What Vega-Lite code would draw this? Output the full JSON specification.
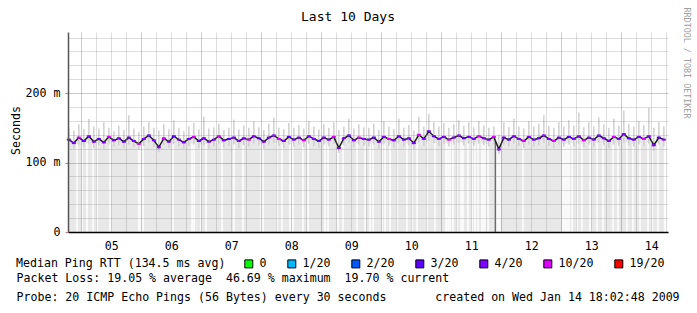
{
  "$schema": "https://vega.github.io/schema/vega-lite/v6.json",
  "width": 600,
  "height": 200,
  "autosize": {"type": "none"},
  "padding": {"left": 68, "top": 32, "right": 29, "bottom": 81},
  "background": "white",
  "config": {"view": {"stroke": null}, "font": "DejaVu Sans Mono"},
  "datasets": {
    "rtt": [
      {"t":"2009-01-04T19:00Z","m":133,"lo":124,"hi":150,"l":"4/20"},
      {"t":"2009-01-04T21:00Z","m":128,"lo":120,"hi":146,"l":"4/20"},
      {"t":"2009-01-04T23:00Z","m":136,"lo":126,"hi":155,"l":"10/20"},
      {"t":"2009-01-05T01:00Z","m":131,"lo":122,"hi":148,"l":"3/20"},
      {"t":"2009-01-05T03:00Z","m":138,"lo":127,"hi":163,"l":"4/20"},
      {"t":"2009-01-05T05:00Z","m":130,"lo":121,"hi":152,"l":"4/20"},
      {"t":"2009-01-05T07:00Z","m":134,"lo":125,"hi":149,"l":"3/20"},
      {"t":"2009-01-05T09:00Z","m":129,"lo":119,"hi":158,"l":"4/20"},
      {"t":"2009-01-05T11:00Z","m":137,"lo":126,"hi":150,"l":"10/20"},
      {"t":"2009-01-05T13:00Z","m":132,"lo":123,"hi":145,"l":"4/20"},
      {"t":"2009-01-05T15:00Z","m":135,"lo":125,"hi":153,"l":"4/20"},
      {"t":"2009-01-05T17:00Z","m":130,"lo":121,"hi":147,"l":"3/20"},
      {"t":"2009-01-05T19:00Z","m":136,"lo":126,"hi":168,"l":"4/20"},
      {"t":"2009-01-05T21:00Z","m":131,"lo":122,"hi":149,"l":"4/20"},
      {"t":"2009-01-05T23:00Z","m":127,"lo":118,"hi":144,"l":"10/20"},
      {"t":"2009-01-06T01:00Z","m":134,"lo":124,"hi":152,"l":"4/20"},
      {"t":"2009-01-06T03:00Z","m":139,"lo":128,"hi":158,"l":"3/20"},
      {"t":"2009-01-06T05:00Z","m":132,"lo":122,"hi":150,"l":"4/20"},
      {"t":"2009-01-06T07:00Z","m":122,"lo":115,"hi":146,"l":"4/20"},
      {"t":"2009-01-06T09:00Z","m":135,"lo":125,"hi":155,"l":"10/20"},
      {"t":"2009-01-06T11:00Z","m":130,"lo":121,"hi":148,"l":"4/20"},
      {"t":"2009-01-06T13:00Z","m":138,"lo":127,"hi":161,"l":"3/20"},
      {"t":"2009-01-06T15:00Z","m":133,"lo":123,"hi":150,"l":"4/20"},
      {"t":"2009-01-06T17:00Z","m":129,"lo":120,"hi":145,"l":"4/20"},
      {"t":"2009-01-06T19:00Z","m":134,"lo":124,"hi":152,"l":"4/20"},
      {"t":"2009-01-06T21:00Z","m":137,"lo":126,"hi":157,"l":"10/20"},
      {"t":"2009-01-06T23:00Z","m":131,"lo":121,"hi":148,"l":"3/20"},
      {"t":"2009-01-07T01:00Z","m":135,"lo":125,"hi":166,"l":"4/20"},
      {"t":"2009-01-07T03:00Z","m":130,"lo":120,"hi":149,"l":"4/20"},
      {"t":"2009-01-07T05:00Z","m":133,"lo":123,"hi":151,"l":"4/20"},
      {"t":"2009-01-07T07:00Z","m":138,"lo":127,"hi":156,"l":"10/20"},
      {"t":"2009-01-07T09:00Z","m":132,"lo":122,"hi":147,"l":"4/20"},
      {"t":"2009-01-07T11:00Z","m":134,"lo":124,"hi":150,"l":"3/20"},
      {"t":"2009-01-07T13:00Z","m":136,"lo":126,"hi":162,"l":"4/20"},
      {"t":"2009-01-07T15:00Z","m":131,"lo":121,"hi":148,"l":"4/20"},
      {"t":"2009-01-07T17:00Z","m":135,"lo":125,"hi":153,"l":"4/20"},
      {"t":"2009-01-07T19:00Z","m":133,"lo":123,"hi":150,"l":"10/20"},
      {"t":"2009-01-07T21:00Z","m":138,"lo":127,"hi":159,"l":"4/20"},
      {"t":"2009-01-07T23:00Z","m":135,"lo":125,"hi":151,"l":"3/20"},
      {"t":"2009-01-08T01:00Z","m":130,"lo":120,"hi":147,"l":"4/20"},
      {"t":"2009-01-08T03:00Z","m":136,"lo":126,"hi":156,"l":"4/20"},
      {"t":"2009-01-08T05:00Z","m":139,"lo":128,"hi":165,"l":"4/20"},
      {"t":"2009-01-08T07:00Z","m":134,"lo":124,"hi":150,"l":"10/20"},
      {"t":"2009-01-08T09:00Z","m":131,"lo":121,"hi":148,"l":"4/20"},
      {"t":"2009-01-08T11:00Z","m":137,"lo":126,"hi":157,"l":"3/20"},
      {"t":"2009-01-08T13:00Z","m":133,"lo":123,"hi":150,"l":"4/20"},
      {"t":"2009-01-08T15:00Z","m":136,"lo":126,"hi":154,"l":"4/20"},
      {"t":"2009-01-08T17:00Z","m":132,"lo":122,"hi":149,"l":"10/20"},
      {"t":"2009-01-08T19:00Z","m":138,"lo":127,"hi":160,"l":"4/20"},
      {"t":"2009-01-08T21:00Z","m":134,"lo":124,"hi":152,"l":"4/20"},
      {"t":"2009-01-08T23:00Z","m":131,"lo":121,"hi":148,"l":"3/20"},
      {"t":"2009-01-09T01:00Z","m":136,"lo":126,"hi":155,"l":"4/20"},
      {"t":"2009-01-09T03:00Z","m":133,"lo":123,"hi":150,"l":"4/20"},
      {"t":"2009-01-09T05:00Z","m":137,"lo":127,"hi":158,"l":"10/20"},
      {"t":"2009-01-09T07:00Z","m":121,"lo":114,"hi":147,"l":"4/20"},
      {"t":"2009-01-09T09:00Z","m":135,"lo":125,"hi":152,"l":"4/20"},
      {"t":"2009-01-09T11:00Z","m":139,"lo":128,"hi":163,"l":"3/20"},
      {"t":"2009-01-09T13:00Z","m":132,"lo":122,"hi":149,"l":"4/20"},
      {"t":"2009-01-09T15:00Z","m":136,"lo":126,"hi":155,"l":"10/20"},
      {"t":"2009-01-09T17:00Z","m":134,"lo":124,"hi":151,"l":"4/20"},
      {"t":"2009-01-09T19:00Z","m":133,"lo":123,"hi":150,"l":"4/20"},
      {"t":"2009-01-09T21:00Z","m":136,"lo":126,"hi":156,"l":"3/20"},
      {"t":"2009-01-09T23:00Z","m":130,"lo":120,"hi":147,"l":"4/20"},
      {"t":"2009-01-10T01:00Z","m":137,"lo":127,"hi":160,"l":"4/20"},
      {"t":"2009-01-10T03:00Z","m":134,"lo":124,"hi":152,"l":"10/20"},
      {"t":"2009-01-10T05:00Z","m":132,"lo":122,"hi":148,"l":"4/20"},
      {"t":"2009-01-10T07:00Z","m":138,"lo":128,"hi":163,"l":"4/20"},
      {"t":"2009-01-10T09:00Z","m":133,"lo":123,"hi":150,"l":"3/20"},
      {"t":"2009-01-10T11:00Z","m":135,"lo":125,"hi":154,"l":"4/20"},
      {"t":"2009-01-10T13:00Z","m":128,"lo":119,"hi":146,"l":"4/20"},
      {"t":"2009-01-10T15:00Z","m":140,"lo":129,"hi":166,"l":"10/20"},
      {"t":"2009-01-10T17:00Z","m":134,"lo":124,"hi":152,"l":"4/20"},
      {"t":"2009-01-10T19:00Z","m":145,"lo":131,"hi":170,"l":"4/20"},
      {"t":"2009-01-10T21:00Z","m":138,"lo":128,"hi":158,"l":"3/20"},
      {"t":"2009-01-10T23:00Z","m":134,"lo":124,"hi":152,"l":"4/20"},
      {"t":"2009-01-11T01:00Z","m":137,"lo":127,"hi":157,"l":"4/20"},
      {"t":"2009-01-11T03:00Z","m":133,"lo":123,"hi":150,"l":"10/20"},
      {"t":"2009-01-11T05:00Z","m":136,"lo":126,"hi":155,"l":"4/20"},
      {"t":"2009-01-11T07:00Z","m":139,"lo":128,"hi":161,"l":"4/20"},
      {"t":"2009-01-11T09:00Z","m":135,"lo":125,"hi":153,"l":"3/20"},
      {"t":"2009-01-11T11:00Z","m":137,"lo":127,"hi":158,"l":"4/20"},
      {"t":"2009-01-11T13:00Z","m":134,"lo":124,"hi":151,"l":"4/20"},
      {"t":"2009-01-11T15:00Z","m":138,"lo":127,"hi":160,"l":"10/20"},
      {"t":"2009-01-11T17:00Z","m":135,"lo":125,"hi":153,"l":"4/20"},
      {"t":"2009-01-11T19:00Z","m":133,"lo":123,"hi":150,"l":"4/20"},
      {"t":"2009-01-11T21:00Z","m":137,"lo":126,"hi":152,"l":"10/20"},
      {"t":"2009-01-11T23:00Z","m":119,"lo":112,"hi":140,"l":"4/20"},
      {"t":"2009-01-12T01:00Z","m":136,"lo":126,"hi":158,"l":"4/20"},
      {"t":"2009-01-12T03:00Z","m":133,"lo":123,"hi":151,"l":"3/20"},
      {"t":"2009-01-12T05:00Z","m":138,"lo":127,"hi":163,"l":"4/20"},
      {"t":"2009-01-12T07:00Z","m":134,"lo":124,"hi":152,"l":"4/20"},
      {"t":"2009-01-12T09:00Z","m":131,"lo":121,"hi":149,"l":"10/20"},
      {"t":"2009-01-12T11:00Z","m":137,"lo":126,"hi":160,"l":"4/20"},
      {"t":"2009-01-12T13:00Z","m":133,"lo":123,"hi":152,"l":"4/20"},
      {"t":"2009-01-12T15:00Z","m":135,"lo":125,"hi":156,"l":"3/20"},
      {"t":"2009-01-12T17:00Z","m":139,"lo":128,"hi":168,"l":"4/20"},
      {"t":"2009-01-12T19:00Z","m":134,"lo":124,"hi":153,"l":"4/20"},
      {"t":"2009-01-12T21:00Z","m":131,"lo":121,"hi":150,"l":"10/20"},
      {"t":"2009-01-12T23:00Z","m":136,"lo":126,"hi":158,"l":"4/20"},
      {"t":"2009-01-13T01:00Z","m":133,"lo":123,"hi":152,"l":"4/20"},
      {"t":"2009-01-13T03:00Z","m":137,"lo":126,"hi":161,"l":"3/20"},
      {"t":"2009-01-13T05:00Z","m":134,"lo":124,"hi":153,"l":"4/20"},
      {"t":"2009-01-13T07:00Z","m":138,"lo":127,"hi":172,"l":"4/20"},
      {"t":"2009-01-13T09:00Z","m":132,"lo":122,"hi":151,"l":"10/20"},
      {"t":"2009-01-13T11:00Z","m":136,"lo":126,"hi":158,"l":"4/20"},
      {"t":"2009-01-13T13:00Z","m":133,"lo":123,"hi":152,"l":"4/20"},
      {"t":"2009-01-13T15:00Z","m":139,"lo":128,"hi":165,"l":"3/20"},
      {"t":"2009-01-13T17:00Z","m":135,"lo":125,"hi":155,"l":"4/20"},
      {"t":"2009-01-13T19:00Z","m":131,"lo":121,"hi":150,"l":"4/20"},
      {"t":"2009-01-13T21:00Z","m":137,"lo":126,"hi":163,"l":"10/20"},
      {"t":"2009-01-13T23:00Z","m":134,"lo":124,"hi":153,"l":"4/20"},
      {"t":"2009-01-14T01:00Z","m":141,"lo":129,"hi":175,"l":"4/20"},
      {"t":"2009-01-14T03:00Z","m":135,"lo":125,"hi":156,"l":"3/20"},
      {"t":"2009-01-14T05:00Z","m":133,"lo":123,"hi":152,"l":"4/20"},
      {"t":"2009-01-14T07:00Z","m":137,"lo":126,"hi":160,"l":"4/20"},
      {"t":"2009-01-14T09:00Z","m":134,"lo":124,"hi":154,"l":"10/20"},
      {"t":"2009-01-14T11:00Z","m":138,"lo":127,"hi":179,"l":"4/20"},
      {"t":"2009-01-14T13:00Z","m":125,"lo":117,"hi":150,"l":"4/20"},
      {"t":"2009-01-14T15:00Z","m":136,"lo":126,"hi":158,"l":"3/20"},
      {"t":"2009-01-14T17:00Z","m":133,"lo":123,"hi":152,"l":"4/20"}
    ],
    "gaps": [
      {"t":"2009-01-04T22:16Z","v":127},{"t":"2009-01-05T00:16Z","v":126},{"t":"2009-01-05T02:16Z","v":128},{"t":"2009-01-05T04:40Z","v":126},
      {"t":"2009-01-05T06:16Z","v":127},{"t":"2009-01-05T11:28Z","v":128},{"t":"2009-01-05T23:04Z","v":124},{"t":"2009-01-05T23:52Z","v":125},
      {"t":"2009-01-06T00:40Z","v":127},{"t":"2009-01-06T12:40Z","v":126},{"t":"2009-01-06T20:16Z","v":127},{"t":"2009-01-06T21:04Z","v":128},
      {"t":"2009-01-06T23:52Z","v":126},{"t":"2009-01-07T01:52Z","v":127},{"t":"2009-01-07T08:16Z","v":128},{"t":"2009-01-07T13:04Z","v":127},
      {"t":"2009-01-07T16:40Z","v":126},{"t":"2009-01-07T23:52Z","v":127},{"t":"2009-01-08T00:40Z","v":126},{"t":"2009-01-08T06:16Z","v":128},
      {"t":"2009-01-08T08:16Z","v":126},{"t":"2009-01-08T11:28Z","v":127},{"t":"2009-01-08T12:40Z","v":127},{"t":"2009-01-08T16:40Z","v":126},
      {"t":"2009-01-08T18:40Z","v":128},{"t":"2009-01-09T01:28Z","v":127},{"t":"2009-01-09T02:40Z","v":126},{"t":"2009-01-09T06:40Z","v":118},
      {"t":"2009-01-09T08:40Z","v":127},{"t":"2009-01-09T14:16Z","v":127},{"t":"2009-01-09T17:28Z","v":126},{"t":"2009-01-09T19:28Z","v":127},
      {"t":"2009-01-09T20:40Z","v":128},{"t":"2009-01-10T00:16Z","v":126},{"t":"2009-01-10T01:28Z","v":128},{"t":"2009-01-10T03:28Z","v":127},
      {"t":"2009-01-10T06:16Z","v":127},{"t":"2009-01-10T10:16Z","v":128},{"t":"2009-01-10T12:16Z","v":124},{"t":"2009-01-10T14:16Z","v":127},
      {"t":"2009-01-10T18:16Z","v":129},{"t":"2009-01-10T21:28Z","v":128},{"t":"2009-01-11T01:52Z","v":128},{"t":"2009-01-11T02:40Z","v":127},
      {"t":"2009-01-11T03:28Z","v":127},{"t":"2009-01-11T04:40Z","v":128},{"t":"2009-01-11T06:16Z","v":129},{"t":"2009-01-11T07:52Z","v":129},
      {"t":"2009-01-11T08:40Z","v":128},{"t":"2009-01-11T10:40Z","v":129},{"t":"2009-01-11T12:16Z","v":128},{"t":"2009-01-11T13:28Z","v":127},
      {"t":"2009-01-11T14:40Z","v":129},{"t":"2009-01-11T16:16Z","v":128},{"t":"2009-01-11T17:04Z","v":128},{"t":"2009-01-11T17:52Z","v":127},
      {"t":"2009-01-11T18:40Z","v":127},{"t":"2009-01-11T22:40Z","v":120},{"t":"2009-01-11T23:28Z","v":116},{"t":"2009-01-12T08:40Z","v":126},
      {"t":"2009-01-13T00:40Z","v":127},{"t":"2009-01-13T01:28Z","v":127},{"t":"2009-01-13T02:16Z","v":128},{"t":"2009-01-13T03:04Z","v":128},
      {"t":"2009-01-13T04:16Z","v":128},{"t":"2009-01-13T06:16Z","v":127},{"t":"2009-01-13T08:16Z","v":127},{"t":"2009-01-13T11:28Z","v":128},
      {"t":"2009-01-13T14:16Z","v":128},{"t":"2009-01-13T16:40Z","v":128},{"t":"2009-01-13T20:40Z","v":126},{"t":"2009-01-13T22:40Z","v":128},
      {"t":"2009-01-14T02:16Z","v":129},{"t":"2009-01-14T04:40Z","v":127},{"t":"2009-01-14T07:28Z","v":128},{"t":"2009-01-14T10:40Z","v":128},
      {"t":"2009-01-14T12:16Z","v":121},{"t":"2009-01-14T14:40Z","v":128}
    ],
    "drop": [{"t":"2009-01-11T21:34Z","v":130}]
  },
  "resolve": {"axis": {"x": "independent", "y": "independent"}},
  "layer": [
    {
      "data": {"name": "rtt"},
      "mark": {"type": "area", "interpolate": "step", "color": "#e8e8e8"},
      "encoding": {
        "x": {
          "field": "t", "type": "temporal",
          "scale": {"domain": [1231094400000, 1231958400000], "padding": 0, "nice": false},
          "axis": {
            "orient": "top",
            "values": [1231135200000, 1231156800000, 1231178400000, 1231221600000, 1231243200000, 1231264800000, 1231308000000, 1231329600000, 1231351200000, 1231394400000, 1231416000000, 1231437600000, 1231480800000, 1231502400000, 1231524000000, 1231567200000, 1231588800000, 1231610400000, 1231653600000, 1231675200000, 1231696800000, 1231740000000, 1231761600000, 1231783200000, 1231826400000, 1231848000000, 1231869600000, 1231912800000, 1231934400000, 1231956000000],
            "grid": true, "gridColor": "#808080", "gridOpacity": 0.27,
            "labels": false, "ticks": false, "domain": false, "zindex": 1,
            "title": "Last 10 Days", "titleFont": "DejaVu Sans Mono", "titleFontSize": 13,
            "titleFontWeight": "normal", "titleColor": "#000000",
            "titleX": 279.5, "titleY": -11.3, "titleAlign": "center", "titleBaseline": "alphabetic"
          }
        },
        "y": {
          "field": "m", "type": "quantitative",
          "scale": {"domain": [0, 288], "nice": false, "zero": true},
          "axis": {
            "orient": "right", "values": [20, 40, 60, 80, 120, 140, 160, 180, 220, 240, 260, 280],
            "grid": true, "gridColor": "#808080", "gridOpacity": 0.27,
            "labels": false, "ticks": false, "domain": false, "zindex": 1,
            "title": "RRDTOOL / TOBI OETIKER", "titleAngle": 90, "titleX": 18, "titleY": -25,
            "titleAlign": "left", "titleBaseline": "middle", "titleFont": "DejaVu Sans Mono",
            "titleFontSize": 8.4, "titleFontWeight": "normal", "titleColor": "#a0a0a0"
          }
        }
      }
    },
    {
      "data": {"name": "gaps"},
      "mark": {"type": "bar", "color": "#ffffff", "width": 1.5},
      "encoding": {
        "x": {"field": "t", "type": "temporal", "axis": null},
        "y": {"field": "v", "type": "quantitative", "axis": null, "stack": null}
      }
    },
    {
      "data": {"name": "rtt"},
      "mark": {"type": "rule", "color": "#cfcfcf", "strokeWidth": 1.5},
      "encoding": {
        "x": {
          "field": "t", "type": "temporal",
          "axis": {
            "orient": "bottom",
            "values": [1231113600000, 1231200000000, 1231286400000, 1231372800000, 1231459200000, 1231545600000, 1231632000000, 1231718400000, 1231804800000, 1231891200000],
            "labelExpr": "utcFormat(datum.value, '%d')", "labelOffset": 30, "labelPadding": 8,
            "labelFont": "DejaVu Sans Mono", "labelFontSize": 11.6, "labelColor": "#000000",
            "labelFlush": false, "labelOverlap": false, "labelBound": false,
            "ticks": false, "tickSize": 0,
            "grid": true, "gridColor": "#e00000", "gridOpacity": 0.28,
            "domain": true, "domainColor": "#000000", "domainWidth": 1.5, "zindex": 1,
            "title": [
              "Packet Loss: 19.05 % average\u00a0\u00a046.69 % maximum\u00a0\u00a019.70 % current",
              "Probe: 20 ICMP Echo Pings (56 Bytes) every 30 seconds\u00a0\u00a0\u00a0\u00a0\u00a0\u00a0\u00a0created on Wed Jan 14 18:02:48 2009"
            ],
            "titleX": -52, "titleY": 49, "titleAlign": "left", "titleBaseline": "alphabetic",
            "titleLineHeight": 19, "titleFont": "DejaVu Sans Mono", "titleFontSize": 11.6,
            "titleFontWeight": "normal", "titleColor": "#000000", "titleLimit": 0
          }
        },
        "y": {
          "field": "lo", "type": "quantitative",
          "axis": {
            "orient": "left", "values": [0, 100, 200],
            "labelExpr": "datum.value == 0 ? '0' : datum.value + ' m'",
            "grid": true, "gridColor": "#e00000", "gridOpacity": 0.28,
            "ticks": true, "tickSize": 3, "tickColor": "#c08080",
            "labelPadding": 5, "labelFont": "DejaVu Sans Mono", "labelFontSize": 11.6,
            "labelColor": "#000000", "labelOverlap": false, "labelFlush": false,
            "domain": true, "domainColor": "#555555", "domainWidth": 1.5, "zindex": 1,
            "title": "Seconds", "titleX": -52, "titleY": 98, "titleAngle": -90,
            "titleAlign": "center", "titleBaseline": "middle", "titleFont": "DejaVu Sans Mono",
            "titleFontSize": 11.6, "titleFontWeight": "normal", "titleColor": "#000000"
          }
        },
        "y2": {"field": "hi"}
      }
    },
    {
      "data": {"name": "drop"},
      "mark": {"type": "bar", "color": "#404040", "width": 1},
      "encoding": {
        "x": {"field": "t", "type": "temporal", "axis": null},
        "y": {"field": "v", "type": "quantitative", "axis": null, "stack": null}
      }
    },
    {
      "data": {"name": "rtt"},
      "mark": {"type": "line", "interpolate": "linear", "color": "#1a1a1a", "strokeWidth": 1.5},
      "encoding": {
        "x": {"field": "t", "type": "temporal", "axis": null},
        "y": {"field": "m", "type": "quantitative", "axis": null}
      }
    },
    {
      "data": {"name": "rtt"},
      "mark": {"type": "tick", "orient": "horizontal", "size": 4, "thickness": 2, "opacity": 1},
      "encoding": {
        "x": {"field": "t", "type": "temporal", "axis": null},
        "y": {"field": "m", "type": "quantitative", "axis": null},
        "color": {
          "field": "l", "type": "nominal",
          "scale": {
            "domain": ["0", "1/20", "2/20", "3/20", "4/20", "10/20", "19/20"],
            "range": ["#00ff00", "#00b8ff", "#0059ff", "#5e00ff", "#7e00ff", "#dd00ff", "#ff0000"]
          },
          "legend": {
            "orient": "none", "legendX": -52, "legendY": 226, "direction": "horizontal",
            "title": "Median Ping RTT (134.5 ms avg)", "titleOrient": "left", "titlePadding": 17,
            "titleLimit": 0,
            "titleFont": "DejaVu Sans Mono", "titleFontSize": 11.6, "titleFontWeight": "normal",
            "titleColor": "#000000",
            "labelFont": "DejaVu Sans Mono", "labelFontSize": 11.6, "labelColor": "#000000",
            "symbolType": "square", "symbolSize": 64, "symbolStrokeColor": "#000000",
            "symbolStrokeWidth": 1, "symbolOpacity": 1, "columnPadding": 18, "labelOffset": 5
          }
        }
      }
    }
  ]
}
